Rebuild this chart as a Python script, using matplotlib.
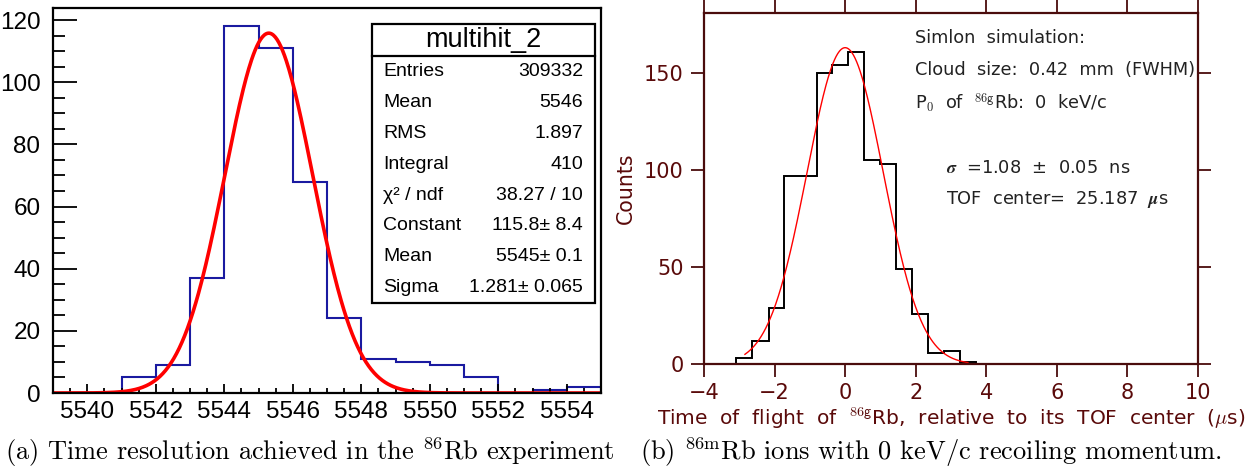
import numpy as np
import matplotlib
matplotlib.use("Agg")
import matplotlib.pyplot as plt

plt.rcParams['mathtext.fontset'] = 'cm'

# ---------------- data: panel (a) ----------------
a_edges = [5539, 5540, 5541, 5542, 5543, 5544, 5545, 5546, 5547, 5548,
           5549, 5550, 5551, 5552, 5553, 5554, 5555]
a_counts = [0, 0, 5, 9, 37, 118, 111, 68, 24, 11, 10, 9, 5, 0, 1, 2]
a_fit_const = 115.8
a_fit_mean = 5545.3
a_fit_sigma = 1.281
a_xticks = [5540, 5542, 5544, 5546, 5548, 5550, 5552, 5554]
a_yticks = [0, 20, 40, 60, 80, 100, 120]
stats_title = "multihit_2"
stats_names = ["Entries", "Mean", "RMS", "Integral", "χ² / ndf",
               "Constant", "Mean", "Sigma"]
stats_values = ["309332", "5546", "1.897", "410", "38.27 / 10",
                "115.8± 8.4", "5545± 0.1", "1.281± 0.065"]

# ---------------- data: panel (b) ----------------
b_edges = [-3.08, -2.63, -2.17, -1.72, -1.27, -0.81, -0.36, 0.09, 0.54,
           1.00, 1.45, 1.90, 2.36, 2.81, 3.26, 3.72]
b_counts = [3, 12, 29, 97, 97, 150, 154, 161, 105, 103, 49, 26, 6, 7, 1]
b_fit_amp = 163.0
b_fit_mean = 0.0
b_fit_sigma = 1.08
b_fit_range = [-2.84, 3.48]
b_xticks = [-4, -2, 0, 2, 4, 6, 8, 10]
b_yticks = [0, 50, 100, 150]

W, H = 1251, 470
fig = plt.figure(figsize=(W / 100, H / 100), dpi=100)


def fx(x):
    return x / W


def fy(y):
    return 1 - y / H


# ---------------- panel (a) ----------------
axA = fig.add_axes([fx(53), fy(393), fx(601) - fx(53), fy(8) - fy(393)])
axA.stairs(a_counts, a_edges, baseline=None, color='#1a1aa0', linewidth=1.5)
xs = np.linspace(a_edges[0], a_edges[-1], 600)
axA.plot(xs, a_fit_const * np.exp(-0.5 * ((xs - a_fit_mean) / a_fit_sigma) ** 2),
         color='#ff0000', linewidth=2.6)
axA.set_xlim(5539, 5555)
axA.set_ylim(0, 123.9)
axA.set_xticks(a_xticks)
axA.set_xticks(np.arange(5539, 5555.01, 0.5), minor=True)
axA.set_yticks(a_yticks)
axA.set_yticks(np.arange(0, 124, 5), minor=True)
axA.tick_params(axis='both', which='both', direction='in', top=False, right=False)
axA.tick_params(axis='y', which='major', length=17, width=1.3, pad=9)
axA.tick_params(axis='y', which='minor', length=8.5, width=1.3)
axA.tick_params(axis='x', which='major', length=6.5, width=1.3, pad=6)
axA.tick_params(axis='x', which='minor', length=3.5, width=1.3)
for lab in axA.get_xticklabels() + axA.get_yticklabels():
    lab.set_fontfamily('Liberation Sans')
    lab.set_fontsize(17.5)
for sp in axA.spines.values():
    sp.set_linewidth(1.6)

# stats box
box = plt.Rectangle((fx(372), fy(303)), fx(595) - fx(372), fy(24) - fy(303),
                    transform=fig.transFigure, facecolor='white',
                    edgecolor='black', linewidth=1.6, zorder=5)
fig.add_artist(box)
fig.add_artist(plt.Line2D([fx(372), fx(595)], [fy(56), fy(56)],
                          transform=fig.transFigure, color='black',
                          linewidth=1.6, zorder=6))
fig.text(fx(483.5), fy(40), stats_title, ha='center', va='center',
         fontsize=19.5, family='Liberation Sans', zorder=7)
for i, (n, v) in enumerate(zip(stats_names, stats_values)):
    yy = 72 + i * 30.8
    fig.text(fx(383), fy(yy), n, ha='left', va='center', fontsize=14,
             family='Liberation Sans', zorder=7)
    fig.text(fx(583), fy(yy), v, ha='right', va='center', fontsize=14,
             family='Liberation Sans', zorder=7)

# ---------------- panel (b) ----------------
maroon = '#4a0c0c'
maroon_txt = '#5a0a0a'
axB = fig.add_axes([fx(704), fy(364.3), fx(1198) - fx(704), fy(12.7) - fy(364.3)])
axB.stairs(b_counts, b_edges, color='black', linewidth=1.4)
xb = np.linspace(b_fit_range[0], b_fit_range[1], 400)
axB.plot(xb, b_fit_amp * np.exp(-0.5 * ((xb - b_fit_mean) / b_fit_sigma) ** 2),
         color='#ff0000', linewidth=1.0)
axB.set_xlim(-4, 10)
axB.set_ylim(0, 181)
axB.set_xticks(b_xticks)
axB.set_yticks(b_yticks)
axB.set_xticklabels(['\u22124', '\u22122', '0', '2', '4', '6', '8', '10'])
axB.tick_params(axis='both', which='major', direction='out', length=9.5,
                width=1.3, color=maroon, labelcolor=maroon_txt,
                top=True, right=True, labelsize=15)
axB.tick_params(axis='x', pad=4)
axB.tick_params(axis='y', pad=5)
for sp in axB.spines.values():
    sp.set_color(maroon)
    sp.set_linewidth(1.6)
axB.set_xlabel('Time  of  flight  of  $^{\\mathsf{86g}}$Rb,  relative  to  its  TOF  center  ($\\mu$s)',
               fontsize=14.5, color=maroon_txt, labelpad=2)
axB.set_ylabel('Counts', fontsize=14.8, color=maroon_txt, labelpad=6)

txt_col = '#222222'
fs_in = 12.8
fig.text(fx(915), fy(38), 'Simlon  simulation:', ha='left', va='center',
         fontsize=fs_in, color=txt_col)
fig.text(fx(915), fy(70), 'Cloud  size:  0.42  mm  (FWHM)', ha='left', va='center',
         fontsize=fs_in, color=txt_col)
fig.text(fx(915), fy(103), 'P$_{\\mathsf{0}}$  of  $^{\\mathsf{86g}}$Rb:  0  keV/c',
         ha='left', va='center', fontsize=fs_in, color=txt_col)
fig.text(fx(946), fy(168), '$\\boldsymbol{\\sigma}$  =1.08  \u00b1  0.05  ns',
         ha='left', va='center', fontsize=fs_in, color=txt_col)
fig.text(fx(946), fy(200), 'TOF  center=  25.187  $\\boldsymbol{\\mu}$s',
         ha='left', va='center', fontsize=fs_in, color=txt_col)

# ---------------- captions ----------------
fig.text(fx(5), fy(452), '(a) Time resolution achieved in the $^{86}$Rb experiment',
         ha='left', va='center', fontsize=19, family='cmr10')
fig.text(fx(640), fy(452), '(b) $^{86\\mathrm{m}}$Rb ions with 0 keV/c recoiling momentum.',
         ha='left', va='center', fontsize=19, family='cmr10')

fig.savefig('out.png', dpi=100)
